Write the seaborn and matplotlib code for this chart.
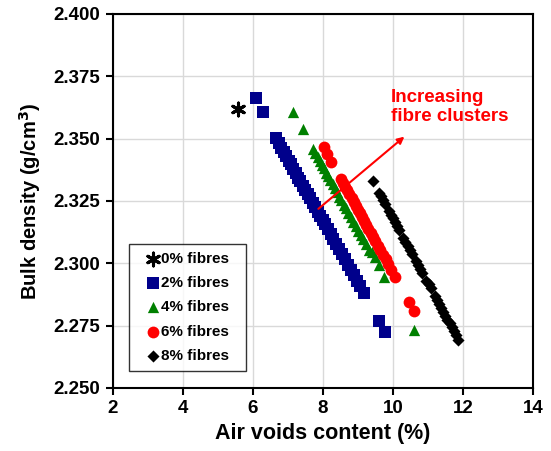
import numpy as np
import pandas as pd
import seaborn as sns
import matplotlib
matplotlib.use('Agg')
import matplotlib.pyplot as plt

# data (air voids %, bulk density g/cm3)
x0 = [5.58]
y0 = [2.3618]

x2 = [6.08, 6.29, 6.65, 6.74, 6.81, 6.88, 6.95, 7.02, 7.08, 7.15, 7.22, 7.30, 7.36,
      7.43, 7.50, 7.57, 7.64, 7.71, 7.78, 7.85, 7.92, 7.99, 8.06, 8.14, 8.22, 8.30,
      8.38, 8.46, 8.55, 8.63, 8.72, 8.80, 8.88, 8.97, 9.06, 9.17, 9.60, 9.77]
y2 = [2.3662, 2.3608, 2.3504, 2.3482, 2.3462, 2.3447, 2.3430, 2.3411, 2.3398, 2.3380,
      2.3362, 2.3343, 2.3330, 2.3311, 2.3293, 2.3276, 2.3260, 2.3242, 2.3225, 2.3207,
      2.3190, 2.3172, 2.3156, 2.3136, 2.3117, 2.3096, 2.3078, 2.3058, 2.3036, 2.3015,
      2.2994, 2.2973, 2.2954, 2.2930, 2.2910, 2.2882, 2.2770, 2.2726]

x4 = [7.15, 7.42, 7.72, 7.78, 7.85, 7.91, 7.97, 8.03, 8.09, 8.15, 8.21, 8.28, 8.34,
      8.40, 8.47, 8.53, 8.60, 8.66, 8.73, 8.80, 8.87, 8.94, 9.01, 9.08, 9.15, 9.23,
      9.31, 9.39, 9.48, 9.59, 9.74, 10.60]
y4 = [2.3606, 2.3537, 2.3459, 2.3442, 2.3426, 2.3410, 2.3395, 2.3381, 2.3364, 2.3350,
      2.3333, 2.3316, 2.3301, 2.3286, 2.3267, 2.3252, 2.3235, 2.3220, 2.3202, 2.3184,
      2.3166, 2.3149, 2.3131, 2.3113, 2.3096, 2.3076, 2.3055, 2.3045, 2.3027, 2.2993,
      2.2946, 2.2732]

x6 = [8.03, 8.13, 8.24, 8.52, 8.58, 8.64, 8.70, 8.76, 8.82, 8.88, 8.94, 9.00, 9.06,
      9.12, 9.18, 9.24, 9.30, 9.37, 9.43, 9.50, 9.57, 9.64, 9.71, 9.79, 9.87, 9.96,
      10.07, 10.46, 10.60]
y6 = [2.3466, 2.3438, 2.3408, 2.3338, 2.3322, 2.3307, 2.3292, 2.3276, 2.3261, 2.3246,
      2.3230, 2.3215, 2.3200, 2.3185, 2.3169, 2.3154, 2.3139, 2.3121, 2.3106, 2.3088,
      2.3070, 2.3053, 2.3035, 2.3015, 2.2995, 2.2972, 2.2944, 2.2844, 2.2809]

x8 = [9.43, 9.60, 9.66, 9.72, 9.78, 9.88, 9.94, 10.00, 10.06, 10.12, 10.18, 10.30,
      10.36, 10.42, 10.48, 10.54, 10.66, 10.72, 10.78, 10.84, 10.96, 11.02, 11.08,
      11.20, 11.26, 11.32, 11.38, 11.44, 11.50, 11.56, 11.62, 11.68, 11.74, 11.80, 11.87]
y8 = [2.3331, 2.3283, 2.3268, 2.3252, 2.3236, 2.3210, 2.3195, 2.3180, 2.3164, 2.3148,
      2.3132, 2.3101, 2.3086, 2.3070, 2.3055, 2.3039, 2.3008, 2.2993, 2.2977, 2.2961,
      2.2930, 2.2915, 2.2899, 2.2868, 2.2852, 2.2836, 2.2821, 2.2806, 2.2790, 2.2774,
      2.2759, 2.2743, 2.2728, 2.2712, 2.2694]

labels = ["0% fibres", "2% fibres", "4% fibres", "6% fibres", "8% fibres"]

sns.set_style("white")
plt.rcParams['font.family'] = ['Liberation Sans', 'DejaVu Sans']
plt.rcParams['font.weight'] = 'bold'
# seaborn greys the text, the original is plain black
plt.rcParams['text.color'] = 'black'
plt.rcParams['axes.labelcolor'] = 'black'
plt.rcParams['xtick.color'] = 'black'
plt.rcParams['ytick.color'] = 'black'

fig = plt.figure(figsize=(5.51, 4.51), dpi=100)
ax = fig.add_axes([0.205, 0.140, 0.762, 0.829])

# one call per fibre content, like the excel series
sns.scatterplot(x=x0, y=y0, ax=ax, marker=(6, 2, 0), s=85, color='black',
                linewidth=2.2, edgecolor='black', label=labels[0], zorder=3)
sns.scatterplot(x=x2, y=y2, ax=ax, marker='s', s=64, color='#00008b',
                linewidth=0, label=labels[1], zorder=3)
sns.scatterplot(x=x4, y=y4, ax=ax, marker='^', s=66, color='#008000',
                linewidth=0, label=labels[2], zorder=3)
sns.scatterplot(x=x6, y=y6, ax=ax, marker='o', s=72, color='#ff0000',
                linewidth=0, label=labels[3], zorder=3)
sns.scatterplot(x=x8, y=y8, ax=ax, marker='D', s=38, color='black',
                linewidth=0, label=labels[4], zorder=3)

ax.set_xlim(2, 14)
ax.set_ylim(2.25, 2.40)
ax.set_xticks(np.arange(2, 15, 2))
ax.set_yticks(np.arange(2.25, 2.401, 0.025))
ax.set_yticklabels([f"{v:.3f}" for v in np.arange(2.25, 2.401, 0.025)])
ax.grid(True, color='#d9d9d9', linewidth=1, zorder=0)
ax.set_axisbelow(True)
for sp in ax.spines.values():
    sp.set_color('black')
    sp.set_linewidth(1.5)
ax.tick_params(axis='both', direction='out', length=5, width=1.5, labelsize=13.5,
               color='black', labelcolor='black', left=True, bottom=True, pad=4)

ax.set_xlabel("Air voids content (%)", fontsize=15.5, fontweight='bold', labelpad=4)
ax.set_ylabel("Bulk density (g/cm$^\\mathbf{3}$)", fontsize=14.5, fontweight='bold',
              labelpad=8)

# red arrow and note
ax.annotate("", xy=(10.39, 2.3515), xytext=(7.81, 2.3211),
            arrowprops=dict(arrowstyle='-|>', color='red', lw=1.5, mutation_scale=10))
ax.text(9.95, 2.3700, "Increasing\nfibre clusters", color='red', fontsize=13.5,
        fontweight='bold', va='top', ha='left', linespacing=1.15)

handles, _ = ax.get_legend_handles_labels()
leg = ax.legend(handles, [l + "  " for l in labels], loc='lower left',
                bbox_to_anchor=(0.038, 0.045), borderaxespad=0, fancybox=False,
                frameon=True, edgecolor='black', fontsize=11, handletextpad=-0.55,
                handlelength=2.1, borderpad=0.55, labelspacing=0.66)
leg.get_frame().set_linewidth(1.0)

fig.savefig("out.png", dpi=100)
